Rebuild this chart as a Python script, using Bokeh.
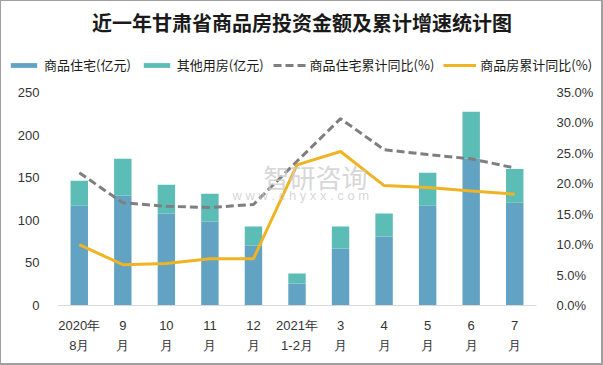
from bokeh.plotting import figure
from bokeh.layouts import column
from bokeh.models import (Range1d, LinearAxis, FixedTicker, PrintfTickFormatter,
                          Legend, LegendItem, Label, ColumnDataSource)
from bokeh.embed import file_html
from bokeh.resources import INLINE

# ---------------- data ----------------
categories = ["2020年\n8月", "9\n月", "10\n月", "11\n月", "12\n月", "2021年\n1-2月",
              "3\n月", "4\n月", "5\n月", "6\n月", "7\n月"]
residential = [117.2, 129.0, 107.9, 98.5, 70.3, 25.8, 66.8, 80.9, 117.2, 172.3, 120.7]
total = [146.5, 172.3, 141.8, 131.3, 92.6, 37.5, 92.6, 107.9, 155.9, 227.4, 160.2]
other = [round(t - r, 1) for t, r in zip(total, residential)]
res_yoy = [21.8, 16.9, 16.3, 16.1, 16.6, 23.7, 30.7, 25.6, 24.8, 24.1, 22.6]
all_yoy = [10.0, 6.7, 6.9, 7.7, 7.7, 23.1, 25.3, 19.7, 19.4, 18.8, 18.3]
left_ticks = [0, 50, 100, 150, 200, 250]
right_ticks = [0, 5, 10, 15, 20, 25, 30, 35]
series_names = ["商品住宅(亿元)", "其他用房(亿元)", "商品住宅累计同比(%)", "商品房累计同比(%)"]
title_text = "近一年甘肃省商品房投资金额及累计增速统计图"

C_RES = "#62a3c3"
C_OTH = "#5bbdb5"
C_GRAY = "#7f7f7f"
C_ORANGE = "#f0b323"
FONT = "Noto Sans CJK SC"
TICKFONT = "Liberation Sans"
W = 603
TOP_H = 80
H = 365

xs = list(range(len(categories)))
src = ColumnDataSource(dict(x=xs, res=residential, oth=other, ry=res_yoy, ay=all_yoy))

# ---------------- header figure: title + legend ----------------
# Same series drawn here, but outside this header's visible range, so only
# the title and legend entries show.
top = figure(width=W, height=TOP_H, output_backend="svg", toolbar_location=None,
             x_range=Range1d(-0.5, 10.5), y_range=Range1d(1000, 1001),
             x_axis_type=None, y_axis_type=None, frame_align=False,
             min_border_left=0, min_border_right=0, min_border_bottom=0, min_border_top=38)
top.outline_line_color = None
top.xgrid.visible = False
top.ygrid.visible = False
top.border_fill_alpha = 0
top.background_fill_alpha = 0
top.title.text = title_text
top.title.text_font = FONT
top.title.text_font_size = "20px"
top.title.text_font_style = "bold"
top.title.text_color = "#1a1a1a"
top.title.align = "center"
top.title.offset = 0
top.title.standoff = 4

g1, g2 = top.vbar_stack(["res", "oth"], x="x", width=0.4, source=src,
                        color=[C_RES, C_OTH], line_color=None)
g3 = top.line("x", "ry", source=src, color=C_GRAY, line_width=3, line_dash="8 4")
g4 = top.line("x", "ay", source=src, color=C_ORANGE, line_width=3)

legend = Legend(items=[LegendItem(label=n, renderers=[g])
                       for n, g in zip(series_names, [g1, g2, g3, g4])],
                orientation="horizontal", location=(7, 6))
legend.label_text_font = FONT
legend.label_text_font_size = "13px"
legend.label_text_color = "#1a1a1a"
legend.glyph_width = 33
legend.glyph_height = 6
legend.label_standoff = 4
legend.spacing = 9
legend.padding = 0
legend.margin = 0
legend.label_height = 16
legend.border_line_color = None
legend.background_fill_alpha = 0
top.add_layout(legend, "center")

# ---------------- main chart ----------------
p = figure(width=W, height=H - TOP_H, output_backend="svg", toolbar_location=None,
           x_range=Range1d(-0.5, len(categories) - 0.5), y_range=Range1d(0, 250),
           frame_align=False,
           min_border_left=57, min_border_right=67, min_border_top=12, min_border_bottom=60)
p.extra_y_ranges = {"pct": Range1d(0, 35)}
p.outline_line_color = None
p.xgrid.visible = False
p.ygrid.visible = False
p.border_fill_alpha = 0
p.background_fill_alpha = 0

p.vbar_stack(["res", "oth"], x="x", width=0.4, source=src,
             color=[C_RES, C_OTH], line_color=None)
p.line("x", "ry", source=src, y_range_name="pct", color=C_GRAY,
       line_width=3, line_dash="8 4")
p.line("x", "ay", source=src, y_range_name="pct", color=C_ORANGE, line_width=3)

ya = p.yaxis[0]
ya.ticker = FixedTicker(ticks=left_ticks)
ya.axis_line_color = None
ya.major_tick_line_color = None
ya.minor_tick_line_color = None
ya.major_label_text_font = TICKFONT
ya.major_label_text_font_size = "13px"
ya.major_label_text_color = "#333333"
ya.major_label_standoff = 12

ra = LinearAxis(y_range_name="pct", ticker=FixedTicker(ticks=right_ticks),
                formatter=PrintfTickFormatter(format="%.1f%%"))
ra.axis_line_color = None
ra.major_tick_line_color = None
ra.minor_tick_line_color = None
ra.major_label_text_font = TICKFONT
ra.major_label_text_font_size = "13px"
ra.major_label_text_color = "#333333"
ra.major_label_standoff = 14
p.add_layout(ra, "right")

xa = p.xaxis[0]
xa.ticker = FixedTicker(ticks=xs)
xa.major_label_overrides = {i: c for i, c in enumerate(categories)}
xa.axis_line_color = "#d9d9d9"
xa.axis_line_width = 1
xa.major_tick_line_color = None
xa.minor_tick_line_color = None
xa.major_label_text_font = TICKFONT
xa.major_label_text_font_size = "13px"
xa.major_label_text_color = "#333333"
xa.major_label_standoff = 6
xa.major_label_text_line_height = 1.35

# watermark
p.add_layout(Label(x=4.23, y=130, text="智研咨询", text_font=FONT, text_font_size="26px",
                   text_color="#cccccc", text_alpha=0.8))
p.add_layout(Label(x=3.52, y=120, text="w w w . c h y x x . c o m", text_font=TICKFONT,
                   text_font_size="13px", text_color="#cccccc", text_alpha=0.8))

layout = column(top, p, spacing=0)
layout.styles = {"background-color": "white",
                 "box-shadow": "inset 1px 1px 0 #a0a0a0, inset -2px -2px 0 #a0a0a0"}
open("out.html", "w").write(file_html(layout, INLINE))
